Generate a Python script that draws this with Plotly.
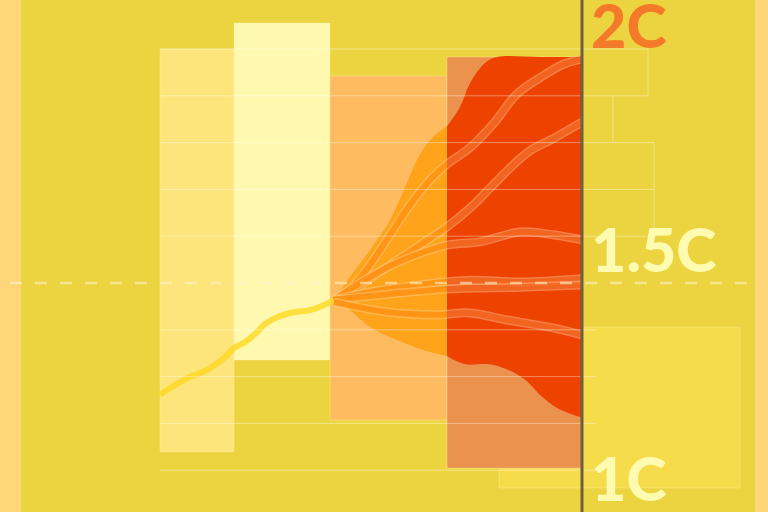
import plotly.graph_objects as go

# temperature axis (C), x is just horizontal position on the page
y_bottom, y_top = 1.0107, 2.1047

# historic line
hist_x = [160, 175, 190, 205, 215, 225, 234, 245, 255, 265, 275, 290, 310, 322, 334]
hist_y = [1.261, 1.282, 1.299, 1.312, 1.325, 1.342, 1.361, 1.374, 1.391, 1.412,
          1.425, 1.436, 1.442, 1.451, 1.464]

# scenario pathways
path_a_x = [334, 350, 370, 390, 410, 430, 447, 471, 494, 517, 541, 564, 582]
path_a_y = [1.464, 1.487, 1.539, 1.603, 1.667, 1.720, 1.754, 1.791, 1.842, 1.904,
            1.940, 1.968, 1.979]
path_b_x = [334, 353, 387, 417, 447, 471, 491, 511, 531, 551, 582]
path_b_y = [1.464, 1.485, 1.534, 1.577, 1.620, 1.662, 1.705, 1.748, 1.784, 1.806, 1.844]
path_c_x = [334, 370, 403, 447, 480, 520, 553, 582]
path_c_y = [1.464, 1.513, 1.549, 1.581, 1.588, 1.609, 1.603, 1.592]
path_d_x = [334, 370, 420, 470, 520, 582]
path_d_y = [1.464, 1.481, 1.496, 1.506, 1.502, 1.509]
path_d2_x = [334, 370, 447, 520, 582]
path_d2_y = [1.464, 1.472, 1.487, 1.491, 1.496]
path_e_x = [334, 387, 437, 470, 507, 553, 582]
path_e_y = [1.459, 1.438, 1.432, 1.436, 1.421, 1.404, 1.389]
paths = [(path_a_x, path_a_y), (path_b_x, path_b_y), (path_c_x, path_c_y),
         (path_d_x, path_d_y), (path_d2_x, path_d2_y), (path_e_x, path_e_y)]

# uncertainty envelope, near term (orange) and long term (red)
near_x = [334, 350, 370, 390, 407, 420, 433, 447]
near_top = [1.464, 1.513, 1.5705, 1.6346, 1.715, 1.775, 1.812, 1.835]
near_low_x = [334, 350, 370, 397, 423, 447]
near_low = [1.464, 1.442, 1.406, 1.378, 1.357, 1.344]
far_x = [447, 460, 470, 485, 497, 540, 582]
far_top = [1.835, 1.876, 1.927, 1.970, 1.983, 1.983, 1.983]
far_low_x = [447, 464, 494, 524, 541, 557, 582]
far_low = [1.344, 1.327, 1.325, 1.295, 1.259, 1.233, 1.212]

# background blocks: x0, x1, y0, y1, colour
blocks = [
    (160, 234, 1.139, 2.000, "#FDE57B"),
    (234, 330, 1.3355, 2.0556, "#FFF8AF"),
    (330, 447, 1.2073, 1.9423, "#FFBB5F"),
    (447, 582, 1.1047, 1.983, "#EC924F"),
    (582, 740, 1.062, 1.406, "#F6DC4A"),
    (499, 582, 1.062, 1.1026, "#F6DC4A"),
]

grid_levels = [2.0, 1.9, 1.8, 1.7, 1.6, 1.4, 1.3, 1.2, 1.1]
grid_ends = [648, 648, 654, 654, 654, 596, 596, 596, 596]
# bracket connectors: x, y0, y1
brackets = [(648, 1.9, 2.0), (613, 1.8, 1.9), (654, 1.6, 1.8)]

labels = ["2C", "1.5C", "1C"]
label_y = [2.0534, 1.5737, 1.0844]
label_colors = ["#F47A2A", "#FFFBB0", "#FFFBB0"]

fig = go.Figure()

# envelope
fig.add_trace(go.Scatter(x=near_low_x, y=near_low, mode="lines", line_shape="spline",
                         line_width=0, hoverinfo="skip"))
fig.add_trace(go.Scatter(x=near_x, y=near_top, mode="lines", line_shape="spline",
                         line_width=0, fill="tonexty", fillcolor="#FFA31B", hoverinfo="skip"))
fig.add_trace(go.Scatter(x=far_low_x, y=far_low, mode="lines", line_shape="spline",
                         line_width=0, hoverinfo="skip"))
fig.add_trace(go.Scatter(x=far_x, y=far_top, mode="lines", line_shape="spline",
                         line_width=0, fill="tonexty", fillcolor="#EE4200", hoverinfo="skip"))

fig.add_trace(go.Scatter(x=hist_x, y=hist_y, mode="lines", line_shape="spline",
                         line=dict(color="rgba(255,215,30,0.78)", width=6), hoverinfo="skip"))

# pathways drawn twice, each copy clipped to its own panel (near / far)
styles = {
    "x2": ("rgba(255,200,120,0.55)", "rgba(255,135,0,0.72)"),
    "x3": ("rgba(255,185,135,0.5)", "rgba(240,92,18,0.72)"),
}
for ax, (edge, core) in styles.items():
    for px_, py_ in paths:
        fig.add_trace(go.Scatter(x=px_, y=py_, xaxis=ax, mode="lines", line_shape="spline",
                                 line=dict(color=edge, width=9), hoverinfo="skip"))
        fig.add_trace(go.Scatter(x=px_, y=py_, xaxis=ax, mode="lines", line_shape="spline",
                                 line=dict(color=core, width=6), hoverinfo="skip"))

# page background and main panel
fig.add_shape(type="rect", x0=21, x1=755, y0=y_bottom, y1=y_top, layer="below",
              fillcolor="#ECD440", line_width=0)
for x0, x1, y0, y1, c in blocks:
    fig.add_shape(type="rect", x0=x0, x1=x1, y0=y0, y1=y1, layer="below",
                  fillcolor=c, line=dict(color="rgba(255,240,170,0.35)", width=1))

for lvl, end in zip(grid_levels, grid_ends):
    fig.add_shape(type="line", x0=160, x1=end, y0=lvl, y1=lvl, layer="above",
                  line=dict(color="rgba(255,255,255,0.38)", width=1))
for bx, b0, b1 in brackets:
    fig.add_shape(type="line", x0=bx, x1=bx, y0=b0, y1=b1, layer="above",
                  line=dict(color="rgba(255,255,255,0.38)", width=1))

fig.add_shape(type="line", x0=10, x1=755, y0=1.5, y1=1.5, layer="above",
              line=dict(color="rgba(255,240,200,0.6)", width=2.5, dash="12px,13px"))
fig.add_shape(type="line", x0=582, x1=582, y0=y_bottom, y1=y_top, layer="above",
              line=dict(color="#6B6040", width=3))

for txt, ty, tc in zip(labels, label_y, label_colors):
    fig.add_annotation(x=589, y=ty, text=txt, showarrow=False, xanchor="left",
                       yanchor="middle",
                       font=dict(family="Lato", size=61, color=tc, weight=900))

fig.update_layout(
    width=768, height=512, margin=dict(l=0, r=0, t=0, b=0),
    paper_bgcolor="#FFD67A", plot_bgcolor="rgba(0,0,0,0)", showlegend=False,
    xaxis=dict(range=[0, 768], domain=[0, 1], visible=False, fixedrange=True),
    xaxis2=dict(range=[330, 447], domain=[330 / 768, 447 / 768], anchor="y",
                visible=False, fixedrange=True),
    xaxis3=dict(range=[447, 582], domain=[447 / 768, 582 / 768], anchor="y",
                visible=False, fixedrange=True),
    yaxis=dict(range=[y_bottom, y_top], visible=False, fixedrange=True),
)
fig.write_html("out.html", config={"displayModeBar": False},
               post_script="document.body.style.margin='0px';")
